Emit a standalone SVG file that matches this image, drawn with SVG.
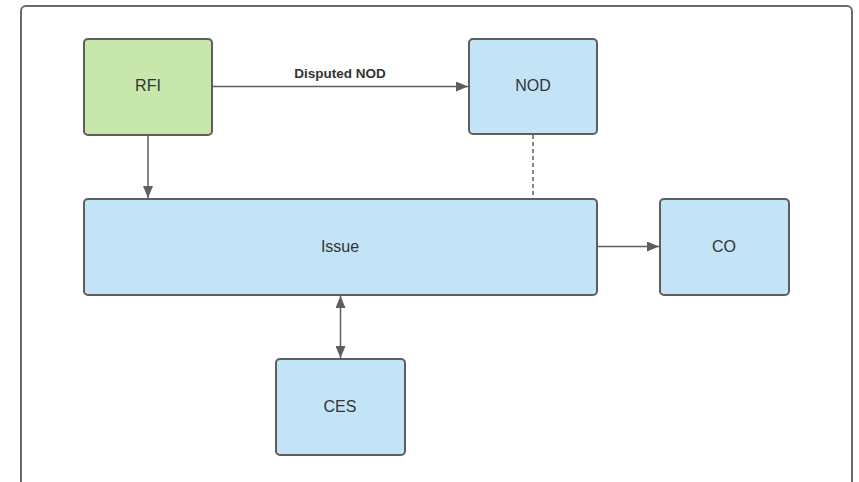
<svg xmlns="http://www.w3.org/2000/svg" width="859" height="482" viewBox="0 0 859 482">
<style>
.node{stroke:#5e5e5e;stroke-width:2}
.blue{fill:#c3e4f6}
.green{fill:#c7e7ad}
.lbl{font-family:"Liberation Sans",Arial,sans-serif;font-size:16px;fill:#333;text-anchor:middle;dominant-baseline:central}
.edge{stroke:#5e5e5e;stroke-width:1.5;fill:none}
.elbl{font-family:"Liberation Sans",Arial,sans-serif;font-size:13.5px;font-weight:bold;fill:#333;text-anchor:middle}
</style>
<defs>
<marker id="arr" viewBox="0 0 12 10" refX="12" refY="5" markerWidth="12" markerHeight="10" markerUnits="userSpaceOnUse" orient="auto-start-reverse">
<path d="M0,0 L12,5 L0,10 Z" fill="#5e5e5e"/>
</marker>
</defs>
<rect width="859" height="482" fill="#fff"/>
<rect x="21" y="6" width="831" height="500" rx="5" fill="none" stroke="#6a6a6a" stroke-width="2"/>
<g id="connectors">
<line class="edge" x1="212" y1="86.5" x2="468" y2="86.5" marker-end="url(#arr)"/>
<text class="elbl" x="340" y="78">Disputed NOD</text>
<line class="edge" x1="148" y1="135" x2="148" y2="198" marker-end="url(#arr)"/>
<line class="edge" x1="533" y1="135" x2="533" y2="199" stroke-dasharray="4,3"/>
<line class="edge" x1="597" y1="246.5" x2="659" y2="246.5" marker-end="url(#arr)"/>
<line class="edge" x1="340.5" y1="296" x2="340.5" y2="358" marker-start="url(#arr)" marker-end="url(#arr)"/>
</g>
<g id="RFI"><rect class="node green" x="84" y="39" width="128" height="96" rx="4"/><text class="lbl" x="148" y="85.5">RFI</text></g>
<g id="NOD"><rect class="node blue" x="469" y="39" width="128" height="95" rx="4"/><text class="lbl" x="533" y="85.5">NOD</text></g>
<g id="Issue"><rect class="node blue" x="84" y="199" width="513" height="96" rx="4"/><text class="lbl" x="340" y="246">Issue</text></g>
<g id="CO"><rect class="node blue" x="660" y="199" width="129" height="96" rx="4"/><text class="lbl" x="724" y="246">CO</text></g>
<g id="CES"><rect class="node blue" x="276" y="359" width="129" height="96" rx="4"/><text class="lbl" x="340" y="406">CES</text></g>
</svg>
